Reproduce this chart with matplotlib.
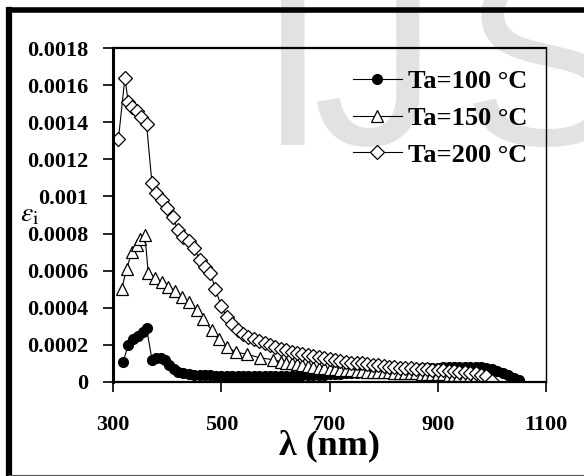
import matplotlib
matplotlib.use("Agg")
import matplotlib.pyplot as plt
from matplotlib.lines import Line2D

plt.rcParams['font.family'] = ['Liberation Serif', 'DejaVu Serif']
plt.rcParams['mathtext.fontset'] = 'stix'

# Ta = 100 C
wl_100 = [319, 328, 337, 347, 355, 362, 372, 380, 388, 396, 404, 412, 420,
          430, 440, 450, 460, 470, 480, 490, 500, 510, 520, 530, 540, 550,
          560, 570, 580, 590, 600, 610, 620, 630, 640, 650, 660, 670, 680,
          690, 700, 710, 720, 730, 740, 750, 760, 770, 780, 790, 800, 810,
          820, 830, 840, 850, 860, 870, 880, 890, 900, 910, 920, 930, 940,
          950, 960, 970, 980, 990, 1000, 1010, 1020, 1030, 1040, 1050]
eps_100 = [0.00011, 0.00020, 0.00023, 0.00025, 0.00027, 0.00029, 0.00012,
           0.00013, 0.00013, 0.00012, 0.00009, 0.00007, 0.000055, 0.00005,
           0.000045, 0.00004, 0.00004, 0.000035, 0.000035, 0.00003, 0.00003,
           0.00003, 0.00003, 0.00003, 0.00003, 0.00003, 0.00003, 0.00003,
           0.00003, 0.00003, 0.00003, 0.00003, 0.000032, 0.000032, 0.000034,
           0.000035, 0.000036, 0.000038, 0.00004, 0.00004, 0.000042, 0.000044,
           0.000045, 0.000047, 0.000048, 0.00005, 0.000052, 0.000054, 0.000056,
           0.000058, 0.00006, 0.000062, 0.000064, 0.000066, 0.000068, 0.00007,
           0.000072, 0.000074, 0.000075, 0.000076, 0.000078, 0.00008, 0.00008,
           0.000082, 0.000082, 0.000083, 0.000083, 0.000082, 0.00008, 0.000075,
           0.00007, 0.00006, 0.00005, 0.000035, 0.00002, 0.00001]

# Ta = 150 C
wl_150 = [316, 325, 335, 344, 350, 359, 365, 378, 390, 402, 415, 427, 440,
          455, 467, 482, 495, 510, 528, 547, 572, 596, 610, 620, 630, 640,
          650, 660, 670, 680, 690, 700, 710, 720, 730, 740, 750, 760, 770,
          780, 790, 800, 810, 820, 830, 840, 850, 860, 870, 880, 890, 900,
          910, 920, 930, 940, 950, 960, 970, 980, 990, 1000]
eps_150 = [0.00050, 0.00061, 0.00070, 0.00074, 0.00077, 0.00079, 0.00059,
           0.00056, 0.00054, 0.00051, 0.00049, 0.00046, 0.00043, 0.00039,
           0.00034, 0.00028, 0.00023, 0.00019, 0.00016, 0.00015, 0.00013,
           0.00012, 0.00011, 0.000105, 0.0001, 0.000095, 0.00009, 0.000085,
           0.00008, 0.000077, 0.000074, 0.00007, 0.000068, 0.000066, 0.000064,
           0.000062, 0.00006, 0.000058, 0.000056, 0.000055, 0.000054, 0.000053,
           0.000052, 0.00005, 0.000049, 0.000048, 0.000047, 0.000046, 0.000045,
           0.000044, 0.000043, 0.000042, 0.000041, 0.00004, 0.000038, 0.000036,
           0.000034, 0.000032, 0.00003, 0.000026, 0.00002, 0.000012]

# Ta = 200 C
wl_200 = [310, 322, 328, 336, 344, 352, 362, 372, 380, 390, 400, 410, 420,
          430, 440, 450, 460, 470, 480, 489, 500, 510, 520, 530, 540, 550,
          560, 570, 580, 590, 600, 610, 620, 630, 640, 650, 660, 670, 680,
          690, 700, 710, 720, 730, 740, 750, 760, 770, 780, 790, 800, 810,
          820, 830, 840, 850, 860, 870, 880, 890, 900, 910, 920, 930, 940,
          950, 960, 970, 980, 990, 1000]
eps_200 = [0.00131, 0.00164, 0.00151, 0.00148, 0.00146, 0.00143, 0.00139,
           0.00107, 0.00102, 0.00098, 0.00094, 0.00089, 0.00082, 0.00078,
           0.00076, 0.00072, 0.00066, 0.00062, 0.00059, 0.00050, 0.00041,
           0.00035, 0.00031, 0.00028, 0.00026, 0.00024, 0.00023, 0.00022,
           0.00021, 0.00020, 0.00019, 0.00018, 0.00017, 0.00016, 0.000155,
           0.00015, 0.000145, 0.00014, 0.000135, 0.00013, 0.000125, 0.00012,
           0.000115, 0.00011, 0.000105, 0.0001, 0.0001, 0.000095, 0.00009,
           0.00009, 0.000085, 0.000082, 0.00008, 0.000078, 0.000076, 0.000074,
           0.000072, 0.00007, 0.000068, 0.000066, 0.000064, 0.000062, 0.00006,
           0.000058, 0.000056, 0.000054, 0.00005, 0.000046, 0.00004, 0.00003,
           0.000005]

yticks = [0, 0.0002, 0.0004, 0.0006, 0.0008, 0.001, 0.0012, 0.0014, 0.0016, 0.0018]
ytick_labels = ['0', '0.0002', '0.0004', '0.0006', '0.0008', '0.001',
                '0.0012', '0.0014', '0.0016', '0.0018']
xticks = [300, 500, 700, 900, 1100]

fig = plt.figure(figsize=(5.84, 4.76), dpi=100)

# faint IJS watermark behind everything, one letter at a time
for ch, xpos in [('I', 0.442), ('J', 0.535), ('S', 0.79)]:
    fig.text(xpos, 0.695, ch, fontsize=180, color='#e2e2e2',
             family='Liberation Sans', ha='left', va='baseline', zorder=-5)

ax = fig.add_axes([0.1935, 0.1975, 0.7415, 0.7015])
ax.set_facecolor('none')

ax.plot(wl_100, eps_100, color='black', lw=0.8, marker='o', ms=7,
        mfc='black', mec='black', label='Ta=100 °C')
ax.plot(wl_150, eps_150, color='black', lw=0.8, marker='^', ms=8.5,
        mfc='white', mec='black', mew=0.9, label='Ta=150 °C')
ax.plot(wl_200, eps_200, color='black', lw=0.8, marker='D', ms=7.5,
        mfc='white', mec='black', mew=0.9, label='Ta=200 °C')

ax.set_xlim(300, 1100)
ax.set_ylim(0, 0.0018)
ax.set_xticks(xticks)
ax.set_xticklabels([str(v) for v in xticks])
ax.set_yticks(yticks)
ax.set_yticklabels(ytick_labels)
ax.tick_params(axis='both', direction='out', length=7, width=1.2,
               labelsize=16, colors='black')
ax.tick_params(axis='x', pad=17)
ax.tick_params(axis='y', pad=11)
for lab in ax.get_xticklabels() + ax.get_yticklabels():
    lab.set_fontweight('bold')

ax.spines['left'].set_linewidth(2.2)
ax.spines['bottom'].set_linewidth(1.6)
ax.spines['top'].set_linewidth(1.6)
ax.spines['right'].set_linewidth(1.0)

ax.set_xlabel('λ (nm)', fontsize=26, fontweight='bold', labelpad=-4)

# y label placed over the tick labels
fig.text(0.035, 0.548, r'$\varepsilon_\mathrm{i}$', fontsize=20,
         ha='left', va='center')

leg = ax.legend(loc='upper right', frameon=False,
                prop={'weight': 'bold', 'size': 19},
                handlelength=1.85, handletextpad=0.25, labelspacing=0.5,
                borderaxespad=0.3, bbox_to_anchor=(1.0, 0.99))

# heavy frame round the figure
fig.add_artist(Line2D([0.0155, 0.0155], [0.0, 0.98], transform=fig.transFigure,
                      color='black', lw=4.5))
fig.add_artist(Line2D([0.0155, 1.0], [0.98, 0.98], transform=fig.transFigure,
                      color='black', lw=4.0))
fig.add_artist(Line2D([0.0155, 1.0], [0.003, 0.003], transform=fig.transFigure,
                      color='#555555', lw=0.8))

fig.savefig('out.png', dpi=100)
